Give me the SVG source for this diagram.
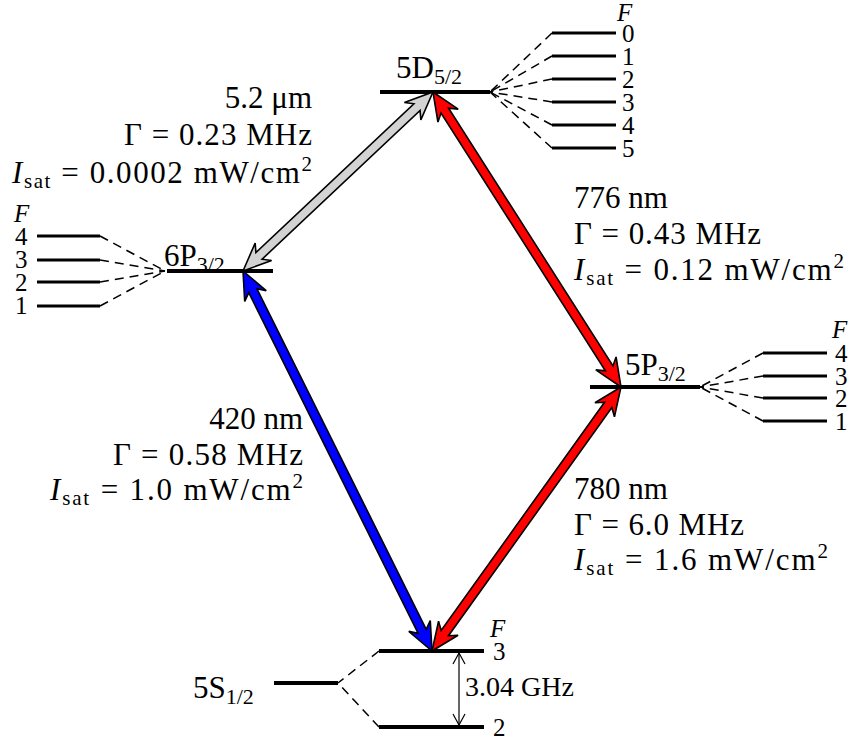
<svg xmlns="http://www.w3.org/2000/svg" width="853" height="742" viewBox="0 0 853 742" font-family="'Liberation Serif', 'DejaVu Serif', serif">
<style>
text{font-family:"Liberation Serif","DejaVu Serif",serif;fill:#000}
.t{font-size:31px}
.lv{font-size:31px}
.hf{font-size:25px}
.it{font-style:italic}
.main{stroke:#000;stroke-width:4;fill:none}
.sub{stroke:#000;stroke-width:3;fill:none}
.dash{stroke:#000;stroke-width:1.5;stroke-dasharray:9 6;fill:none}
.arr{stroke:#000;stroke-width:1.6;stroke-linejoin:miter}
</style>
<rect width="853" height="742" fill="#fff"/>

<g id="level-5D52">
<line class="main" x1="380" y1="92" x2="490" y2="92"/>
<text class="lv" x="396" y="78">5D<tspan font-size="22" dy="6">5/2</tspan></text>
<line class="dash" x1="552" y1="33" x2="490" y2="92"/>
<line class="dash" x1="552" y1="56" x2="490" y2="92"/>
<line class="dash" x1="552" y1="79" x2="490" y2="92"/>
<line class="dash" x1="552" y1="102" x2="490" y2="92"/>
<line class="dash" x1="552" y1="125" x2="490" y2="92"/>
<line class="dash" x1="552" y1="148" x2="490" y2="92"/>
<line class="sub" x1="552" y1="33" x2="616" y2="33"/>
<line class="sub" x1="552" y1="56" x2="616" y2="56"/>
<line class="sub" x1="552" y1="79" x2="616" y2="79"/>
<line class="sub" x1="552" y1="102" x2="616" y2="102"/>
<line class="sub" x1="552" y1="125" x2="616" y2="125"/>
<line class="sub" x1="552" y1="148" x2="616" y2="148"/>
<text class="hf it" x="617" y="21">F</text>
<text class="hf" x="622" y="42">0</text>
<text class="hf" x="622" y="65">1</text>
<text class="hf" x="622" y="88">2</text>
<text class="hf" x="622" y="111">3</text>
<text class="hf" x="622" y="134">4</text>
<text class="hf" x="622" y="157">5</text>
</g>

<g id="level-6P32">
<line class="main" x1="167" y1="271" x2="273" y2="271"/>
<text class="lv" x="164" y="266">6P<tspan font-size="22" dy="6">3/2</tspan></text>
<line class="sub" x1="37" y1="236" x2="100" y2="236"/>
<line class="sub" x1="37" y1="260" x2="100" y2="260"/>
<line class="sub" x1="37" y1="282" x2="100" y2="282"/>
<line class="sub" x1="37" y1="306" x2="100" y2="306"/>
<line class="dash" x1="100" y1="236" x2="165" y2="271"/>
<line class="dash" x1="100" y1="260" x2="165" y2="271"/>
<line class="dash" x1="100" y1="282" x2="165" y2="271"/>
<line class="dash" x1="100" y1="306" x2="165" y2="271"/>
<text class="hf it" x="14" y="222">F</text>
<text class="hf" x="15" y="245">4</text>
<text class="hf" x="15" y="268">3</text>
<text class="hf" x="15" y="291">2</text>
<text class="hf" x="15" y="314">1</text>
</g>

<g id="level-5P32">
<line class="main" x1="590" y1="387" x2="700" y2="387"/>
<text class="lv" x="625" y="375">5P<tspan font-size="22" dy="6">3/2</tspan></text>
<line class="dash" x1="763" y1="353" x2="700" y2="387"/>
<line class="dash" x1="763" y1="376" x2="700" y2="387"/>
<line class="dash" x1="763" y1="398" x2="700" y2="387"/>
<line class="dash" x1="763" y1="421" x2="700" y2="387"/>
<line class="sub" x1="763" y1="353" x2="827" y2="353"/>
<line class="sub" x1="763" y1="376" x2="827" y2="376"/>
<line class="sub" x1="763" y1="398" x2="827" y2="398"/>
<line class="sub" x1="763" y1="421" x2="827" y2="421"/>
<text class="hf it" x="832" y="338">F</text>
<text class="hf" x="835" y="362">4</text>
<text class="hf" x="835" y="385">3</text>
<text class="hf" x="835" y="407">2</text>
<text class="hf" x="835" y="430">1</text>
</g>

<g id="level-5S12">
<line class="main" x1="274" y1="683" x2="338" y2="683"/>
<text class="lv" x="193" y="698">5S<tspan font-size="22" dy="6">1/2</tspan></text>
<line class="dash" x1="379" y1="651" x2="338" y2="683"/>
<line class="dash" x1="379" y1="727" x2="338" y2="683"/>
<line class="main" x1="379" y1="651" x2="484" y2="651"/>
<line class="main" x1="379" y1="727" x2="484" y2="727"/>
<line x1="459" y1="653" x2="459" y2="725" stroke="#000" stroke-width="1.2"/>
<polyline points="453,664 459,653 465,664" fill="none" stroke="#000" stroke-width="1.2"/>
<polyline points="453,714 459,725 465,714" fill="none" stroke="#000" stroke-width="1.2"/>
<text x="465" y="696" font-size="28">3.04 GHz</text>
<text class="hf it" x="490" y="637">F</text>
<text class="hf" x="493" y="660">3</text>
<text class="hf" x="493" y="736">2</text>
</g>

<g id="connectors">
<polygon class="arr" fill="#d3d3d3" points="243,271 271.61,260.53 262.10,259.19 420.08,110.37 420.85,119.93 433,92 404.39,102.47 413.90,103.81 255.92,252.63 255.15,243.07"/>
<polygon class="arr" fill="#0000ff" points="243,271 244.73,301.41 248.77,292.70 418.17,633.30 408.79,631.27 432,651 430.27,620.59 426.23,629.30 256.83,288.70 266.21,290.73"/>
<polygon class="arr" fill="#ff0000" points="433,92 437.93,122.06 441.03,112.97 605.39,370.87 595.83,369.84 621,387 616.07,356.94 612.97,366.03 448.61,108.13 458.17,109.16"/>
<polygon class="arr" fill="#ff0000" points="621,387 594.94,402.78 604.53,402.27 441.15,630.49 438.54,621.24 432,651 458.06,635.22 448.47,635.73 611.85,407.51 614.46,416.76"/>
</g>

<g id="labels">
<g id="label-5D-6P" text-anchor="end">
<text class="t" x="312" y="108">5.2 μm</text>
<text class="t" x="312" y="145" textLength="188" lengthAdjust="spacing">Γ = 0.23 MHz</text>
<text class="t" x="312" y="183" textLength="300" lengthAdjust="spacing"><tspan class="it">I</tspan><tspan font-size="21" dy="5">sat</tspan><tspan dy="-5"> = 0.0002 mW/cm</tspan><tspan font-size="21" dy="-12">2</tspan></text>
</g>
<g id="label-5D-5P">
<text class="t" x="574" y="208">776 nm</text>
<text class="t" x="574" y="244" textLength="187" lengthAdjust="spacing">Γ = 0.43 MHz</text>
<text class="t" x="574" y="280" textLength="270" lengthAdjust="spacing"><tspan class="it">I</tspan><tspan font-size="21" dy="5">sat</tspan><tspan dy="-5"> = 0.12 mW/cm</tspan><tspan font-size="21" dy="-12">2</tspan></text>
</g>
<g id="label-6P-5S" text-anchor="end">
<text class="t" x="303" y="429">420 nm</text>
<text class="t" x="303" y="465" textLength="190" lengthAdjust="spacing">Γ = 0.58 MHz</text>
<text class="t" x="303" y="500" textLength="253" lengthAdjust="spacing"><tspan class="it">I</tspan><tspan font-size="21" dy="5">sat</tspan><tspan dy="-5"> = 1.0 mW/cm</tspan><tspan font-size="21" dy="-12">2</tspan></text>
</g>
<g id="label-5P-5S">
<text class="t" x="574" y="499">780 nm</text>
<text class="t" x="574" y="535" textLength="170" lengthAdjust="spacing">Γ = 6.0 MHz</text>
<text class="t" x="574" y="570" textLength="254" lengthAdjust="spacing"><tspan class="it">I</tspan><tspan font-size="21" dy="5">sat</tspan><tspan dy="-5"> = 1.6 mW/cm</tspan><tspan font-size="21" dy="-12">2</tspan></text>
</g>
</g>
</svg>
